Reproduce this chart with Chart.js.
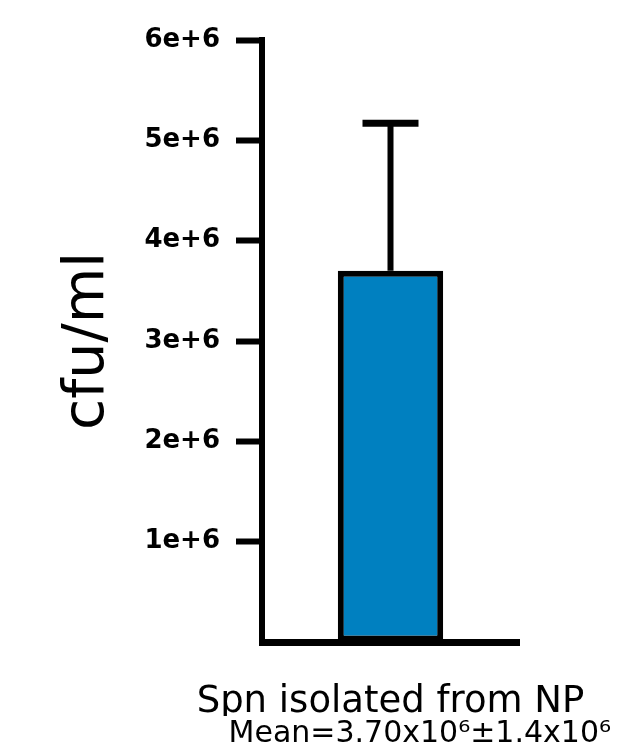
<!DOCTYPE html>
<html>
<head>
<meta charset="utf-8">
<script src="https://cdn.jsdelivr.net/npm/chart.js@4"></script>
<style>
  body { margin: 0; background: #fff; }
  #wrap { width: 634px; height: 752px; }
</style>
</head>
<body>
<div id="wrap"><canvas id="cfuChart" width="634" height="752"></canvas></div>
<script>
// data
const categories = ["Spn isolated from NP"];
const meanValues = [3.70e6];
const errorPlus = [1.47e6];
const yTicks = [0, 1e6, 2e6, 3e6, 4e6, 5e6, 6e6];
const yTickLabels = ["", "1e+6", "2e+6", "3e+6", "4e+6", "5e+6", "6e+6"];
const meanText = "Mean=3.70x10\u2076\u00B11.4x10\u2076";

// error bar on top of each bar (upper only)
const errorBars = {
  id: "errorBars",
  afterDatasetsDraw(chart) {
    const ctx = chart.ctx;
    const y = chart.scales.y;
    const meta = chart.getDatasetMeta(0);
    ctx.save();
    ctx.strokeStyle = "#000";
    meta.data.forEach((bar, i) => {
      const top = y.getPixelForValue(meanValues[i] + errorPlus[i]);
      const base = y.getPixelForValue(meanValues[i]);
      ctx.lineWidth = 6;
      ctx.beginPath();
      ctx.moveTo(bar.x, base);
      ctx.lineTo(bar.x, top);
      ctx.stroke();
      ctx.lineWidth = 7;
      ctx.beginPath();
      ctx.moveTo(bar.x - 28, top);
      ctx.lineTo(bar.x + 28, top);
      ctx.stroke();
    });
    ctx.restore();
  }
};

new Chart("cfuChart", {
  type: "bar",
  data: {
    labels: categories,
    datasets: [{
      data: meanValues,
      backgroundColor: "#0080c0",
      borderColor: "#000",
      borderWidth: 6,
      borderSkipped: false,
      barPercentage: 1,
      categoryPercentage: 0.41
    }]
  },
  options: {
    responsive: false,
    animation: false,
    layout: { padding: { left: 0, top: 40, right: 23, bottom: 0 } },
    plugins: {
      legend: { display: false },
      tooltip: { enabled: false },
      title: {
        display: true, position: "bottom", align: "end",
        text: meanText, color: "#000",
        font: { family: "DejaVu Sans", size: 30, weight: "normal" },
        padding: { top: 0, bottom: 0 }
      }
    },
    scales: {
      x: {
        grid: { display: false, drawTicks: false },
        border: { color: "#000", width: 7 },
        ticks: { color: "#000", padding: 38, maxRotation: 0, font: { family: "DejaVu Sans", size: 37 } },
        afterFit: (s) => { s.height = 74; s.paddingLeft = 0; s.paddingRight = 115; }
      },
      y: {
        min: 0, max: 6e6,
        afterBuildTicks: (s) => { s.ticks = yTicks.map(v => ({ value: v })); },
        ticks: {
          color: "#000", padding: 16,
          font: { family: "DejaVu Sans", weight: "bold", size: 26 },
          callback: (v, i) => yTickLabels[i]
        },
        grid: {
          drawOnChartArea: false, tickLength: 26, tickWidth: 6,
          color: (c) => (c.tick && c.tick.value === 0 ? "rgba(0,0,0,0)" : "#000")
        },
        border: { color: "#000", width: 6 },
        title: {
          display: true, text: "cfu/ml", color: "#000",
          font: { family: "DejaVu Sans", size: 57 },
          padding: { top: 54, bottom: 0 }
        },
        afterFit: (s) => { s.width = 262; }
      }
    }
  },
  plugins: [errorBars]
});
</script>
</body>
</html>
